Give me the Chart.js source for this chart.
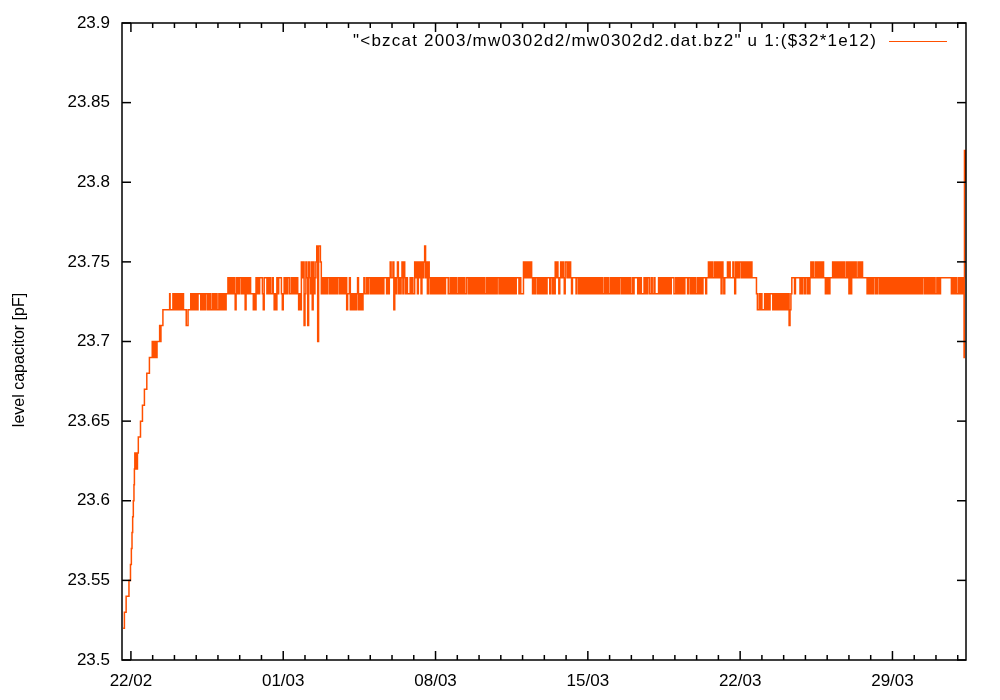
<!DOCTYPE html>
<html><head><meta charset="utf-8">
<script src="https://cdn.jsdelivr.net/npm/chart.js@4.4.1/dist/chart.umd.min.js"></script>
<style>html,body{margin:0;padding:0;background:#fff}#wrap{width:1000px;height:700px}</style>
</head><body><div id="wrap"><canvas id="c" width="1000" height="700"></canvas></div>
<script>
// ---------- data (x = days since 22/02 00:00) ----------
const seriesLabel = '"<bzcat 2003/mw0302d2/mw0302d2.dat.bz2" u 1:($32*1e12)';
const yAxisTitle = 'level capacitor [pF]';
const xTickValues = [0, 7, 14, 21, 28, 35];
const xTickLabels = ['22/02', '01/03', '08/03', '15/03', '22/03', '29/03'];
const yTickValues = [23.5, 23.55, 23.6, 23.65, 23.7, 23.75, 23.8, 23.85, 23.9];
const yTickLabels = ['23.5', '23.55', '23.6', '23.65', '23.7', '23.75', '23.8', '23.85', '23.9'];
const xRange = [-0.41, 38.38];

// initial warm-up ramp (explicit step points)
const rampDays = [-0.36,-0.30,-0.22,-0.09,-0.02,0.02,0.05,0.08,0.11,0.14,0.16,0.18,0.24,0.30,0.34,0.44,0.53,0.62,0.73,0.85,
                  0.98,1.02,1.06,1.10,1.14,1.18,1.20,1.32,1.35,1.38,1.47,1.78,1.80,1.93,1.955,1.98];
const rampValues = [23.52,23.53,23.54,23.55,23.56,23.57,23.58,23.59,23.60,23.61,23.62,23.63,23.62,23.63,23.64,23.65,23.66,23.67,23.68,23.69,
                    23.70,23.69,23.70,23.69,23.70,23.69,23.70,23.71,23.70,23.71,23.72,23.73,23.72,23.73,23.72,23.73];

// hourly readings from day 2 on; each char = level in 0.01 pF above 23.70
const hourlyFirstDay = 2;
const hourlyCodes = [
  '232323232322211222323232', // 24/02
  '323332323233232322323232',
  '232323232334343434324343',
  '443434243434333232434344',
  '432444343433432324344432',
  '343434433434343432325451', // 01/03
  '354154352534560665343434',
  '344343434343443434343423',
  '342323232342323234334344',
  '343434343434343444343454',
  '452434534345354343334343',
  '354535453545645354343434',
  '343434343434443343434343', // 08/03
  '343434343344343434343434',
  '343434334343434343434434',
  '343434343434343434443433',
  '354545454543434434343434',
  '343444344343545434545435',
  '545454344443443434343434',
  '343434343434343433434343', // 15/03
  '343434343434434343434343',
  '343444434343334343443343',
  '343333434343434343434443',
  '343434343434443443434343',
  '343434344434454545445454',
  '545354344454544454354545',
  '545454545454544444322323', // 22/03
  '222323232333232323232323',
  '232323123444344444343443',
  '443434545445454545454434',
  '343444545454545454544545',
  '353545454454545444443434',
  '343443434434343434343434',
  '343434343434343434343434', // 29/03
  '343434343443434343434343',
  '343434444444444443434343',
  '3434343'
];
const levelBase = 23.70;

// final spike
const tailDays = [38.292, 38.30, 38.31, 38.325, 38.34, 38.36, 38.38];
const tailValues = [23.69, 23.74, 23.82, 23.80, 23.82, 23.80, 23.80];

// ---------- build series ----------
const points = [];
rampDays.forEach((t, i) => points.push({x: t, y: rampValues[i]}));
hourlyCodes.forEach((s, di) => {
  for (let h = 0; h < s.length; h++) {
    points.push({x: hourlyFirstDay + di + h / 24, y: +(levelBase + Number(s[h]) / 100).toFixed(2)});
  }
});
tailDays.forEach((t, i) => points.push({x: t, y: tailValues[i]}));

const ORANGE = '#ff5000';
const FONT = '"Liberation Sans", Arial, Helvetica, sans-serif';

const framePlugin = {
  id: 'frame',
  afterDraw(chart) {
    const {ctx, chartArea: a, scales: {x, y}} = chart;
    ctx.save();
    ctx.strokeStyle = '#000';
    ctx.lineWidth = 1.5;
    const seg = (x1, y1, x2, y2) => { ctx.beginPath(); ctx.moveTo(x1, y1); ctx.lineTo(x2, y2); ctx.stroke(); };
    ctx.strokeRect(a.left, a.top, a.right - a.left, a.bottom - a.top);
    for (let d = Math.ceil(x.min); d <= Math.floor(x.max); d++) {
      const px = x.getPixelForValue(d);
      const len = xTickValues.includes(d) ? 9 : 5;
      seg(px, a.bottom, px, a.bottom - len);
      seg(px, a.top, px, a.top + len);
    }
    yTickValues.forEach(v => {
      const py = y.getPixelForValue(v);
      seg(a.left, py, a.left + 9, py);
      seg(a.right, py, a.right - 9, py);
    });
    // y axis title
    ctx.save();
    ctx.font = '16px ' + FONT;
    ctx.fillStyle = '#000';
    ctx.textAlign = 'center';
    ctx.textBaseline = 'middle';
    ctx.translate(20, 360);
    ctx.rotate(-Math.PI / 2);
    ctx.fillText(yAxisTitle, 0, 0);
    ctx.restore();
    // key line
    ctx.strokeStyle = ORANGE;
    ctx.lineWidth = 1;
    seg(889, 41.5, 947, 41.5);
    // key text
    const label = chart.data.datasets[0].label;
    ctx.font = '17px ' + FONT;
    ctx.fillStyle = '#000';
    ctx.textAlign = 'right';
    ctx.textBaseline = 'middle';
    const w = ctx.measureText(label).width;
    const target = 524;
    if ('letterSpacing' in ctx) ctx.letterSpacing = Math.max(0, (target - w) / label.length) + 'px';
    ctx.fillText(label, 877, 41);
    ctx.restore();
  }
};

new Chart(document.getElementById('c').getContext('2d'), {
  type: 'line',
  data: {datasets: [{
    label: seriesLabel, data: points, borderColor: ORANGE, backgroundColor: ORANGE,
    borderWidth: 1.5, pointRadius: 0, stepped: true, fill: false, tension: 0
  }]},
  options: {
    responsive: false, animation: false, devicePixelRatio: 1,
    parsing: false, normalized: true,
    layout: {padding: {top: 23, right: 34, left: 0, bottom: 0}},
    plugins: {legend: {display: false}, tooltip: {enabled: false}},
    scales: {
      x: {
        type: 'linear', min: xRange[0], max: xRange[1],
        grid: {display: false, drawTicks: false}, border: {display: false},
        afterBuildTicks: s => { s.ticks = xTickValues.map(v => ({value: v})); },
        ticks: {autoSkip: false, maxRotation: 0, padding: 11, color: '#000',
                font: {family: FONT, size: 17}, callback: (v, i) => xTickLabels[i]},
        afterFit: s => { s.height = 40; }
      },
      y: {
        type: 'linear', min: 23.5, max: 23.9,
        grid: {display: false, drawTicks: false}, border: {display: false},
        afterBuildTicks: s => { s.ticks = yTickValues.map(v => ({value: v})); },
        ticks: {padding: 12, color: '#000', font: {family: FONT, size: 17},
                callback: (v, i) => yTickLabels[i]},
        afterFit: s => { s.width = 122; }
      }
    }
  },
  plugins: [framePlugin]
});
</script>
</body></html>
